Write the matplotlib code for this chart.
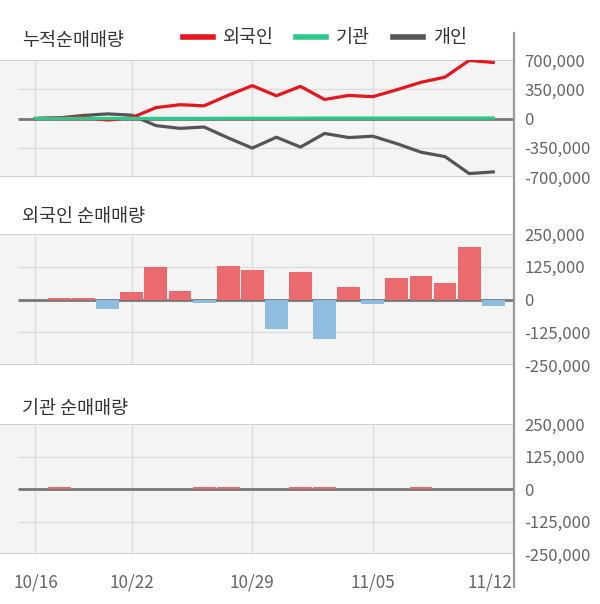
import matplotlib
matplotlib.use("Agg")
import matplotlib.pyplot as plt
from matplotlib.lines import Line2D
from matplotlib.transforms import ScaledTranslation
import numpy as np

plt.rcParams["font.family"] = ["Noto Sans CJK KR", "DejaVu Sans"]

# trading days shown on the x axis
dates = ["10/16", "10/17", "10/20", "10/21", "10/22", "10/23", "10/24",
         "10/27", "10/28", "10/29", "10/30", "10/31", "11/03", "11/04",
         "11/05", "11/06", "11/07", "11/10", "11/11", "11/12"]
tick_idx = [0, 4, 9, 14, 19]

# cumulative net buying (shares)
foreign_cum = [0, 8000, 14000, -18000, 10000, 130000, 165000, 152000, 278000,
               393000, 272000, 384000, 228000, 276000, 261000, 344000, 433000,
               495000, 695000, 670000]
inst_cum = [0, 1000, 1000, 1000, 1000, 1000, 1000, 2000, 3000, 3000, 3000,
            4000, 5000, 5000, 5000, 5000, 6000, 6000, 6000, 6000]
indiv_cum = [0, 8000, 37000, 55000, 40000, -85000, -118000, -102000, -232000,
             -354000, -224000, -342000, -179000, -228000, -212000, -301000,
             -403000, -456000, -659000, -639000]

# daily net buying
foreign_daily = [0, 5000, 5000, -35000, 29000, 123000, 33000, -12000, 127000,
                 112000, -112000, 104000, -150000, 47000, -16000, 81000, 89000,
                 62000, 199000, -24000]
inst_daily = [0, 6000, 0, 0, 0, 0, 0, 6000, 6000, 0, 0, 6000, 6000, 0, 0, 0,
              6000, 0, 0, 0]

RED = "#e5161d"
GREEN = "#2dc98a"
GRAY = "#555555"
POS = "#ea6a6d"
NEG = "#8fbde0"

W, H = 600, 604
fig = plt.figure(figsize=(W / 100, H / 100), dpi=100)


def axes_px(left, top, right, bottom):
    return fig.add_axes([left / W, 1 - bottom / H, (right - left) / W,
                         (bottom - top) / H])


XMIN, XMAX, XSTART = -1.47, 19.82, -0.73


def style(ax, lim, ticks, labels):
    ax.set_facecolor("#f4f4f4")
    for s in ax.spines.values():
        s.set_visible(False)
    ax.set_xlim(XMIN, XMAX)
    ax.set_ylim(-lim, lim)
    for t in ticks[1:-1]:
        ax.hlines(t, XSTART, XMAX, color="#dcdcdc", lw=1, zorder=0)
    for t in (ticks[0], ticks[-1]):
        ax.axhline(t, color="#cfcfcf", lw=1.4, zorder=0)
    for i in tick_idx[:-1]:
        ax.axvline(i, color="#dcdcdc", lw=1, zorder=0)
    ax.hlines(0, XSTART, XMAX, color="#777777", lw=2, zorder=1)
    ax.yaxis.tick_right()
    ax.set_yticks(ticks)
    ax.set_yticklabels(labels)
    ax.tick_params(axis="y", length=0, pad=8, labelsize=12, labelcolor="#666666")
    ax.set_xticks(tick_idx)
    ax.tick_params(axis="x", length=0)
    ax.set_xticklabels([])


x = np.arange(len(dates))

# cumulative panel
ax1 = axes_px(0, 60, 513, 177)
style(ax1, 700000, [-700000, -350000, 0, 350000, 700000],
      ["-700,000", "-350,000", "0", "350,000", "700,000"])
ax1.plot(x, indiv_cum, color=GRAY, lw=2.3, zorder=3, label="개인")
ax1.plot(x, foreign_cum, color=RED, lw=2.3, zorder=4, label="외국인")
ax1.plot(x, inst_cum, color=GREEN, lw=2.3, zorder=5, label="기관")

# foreign daily
bar_ticks = [-250000, -125000, 0, 125000, 250000]
bar_labels = ["-250,000", "-125,000", "0", "125,000", "250,000"]
ax2 = axes_px(0, 234, 513, 365)
style(ax2, 250000, bar_ticks, bar_labels)
ax2.bar(x, foreign_daily, width=0.95,
        color=[POS if v >= 0 else NEG for v in foreign_daily], zorder=2)

# institution daily
ax3 = axes_px(0, 424, 513, 554)
style(ax3, 250000, bar_ticks, bar_labels)
ax3.bar(x, inst_daily, width=0.95,
        color=[POS if v >= 0 else NEG for v in inst_daily], zorder=2)
ax3.set_xticklabels([dates[i] for i in tick_idx])
ax3.tick_params(axis="x", pad=14, labelsize=12.3, labelcolor="#666666")
last = ax3.get_xticklabels()[-1]
last.set_transform(last.get_transform()
                   + ScaledTranslation(-0.03, 0, fig.dpi_scale_trans))

# right-hand axis rule
fig.add_artist(Line2D([514 / W, 514 / W], [1 - 33 / H, 1 - 587 / H],
                      color="#9a9a9a", lw=1.6))

# panel titles
for txt, y in [("누적순매매량", 41), ("외국인 순매매량", 217), ("기관 순매매량", 409)]:
    fig.text(22 / W, 1 - y / H, txt, ha="left", va="center",
             fontsize=13.3, color="#333333")

# legend
handles = [Line2D([], [], color=RED, lw=4), Line2D([], [], color=GREEN, lw=4),
           Line2D([], [], color=GRAY, lw=4)]
fig.legend(handles, ["외국인", "기관", "개인"], ncol=3, frameon=False,
           loc="center left", bbox_to_anchor=(183 / W, 1 - 38 / H),
           borderpad=0, borderaxespad=0, handlelength=1.62,
           handletextpad=0.54, columnspacing=1.22, fontsize=13.3,
           labelcolor="#333333")

fig.savefig("out.png", dpi=100, facecolor="white")
